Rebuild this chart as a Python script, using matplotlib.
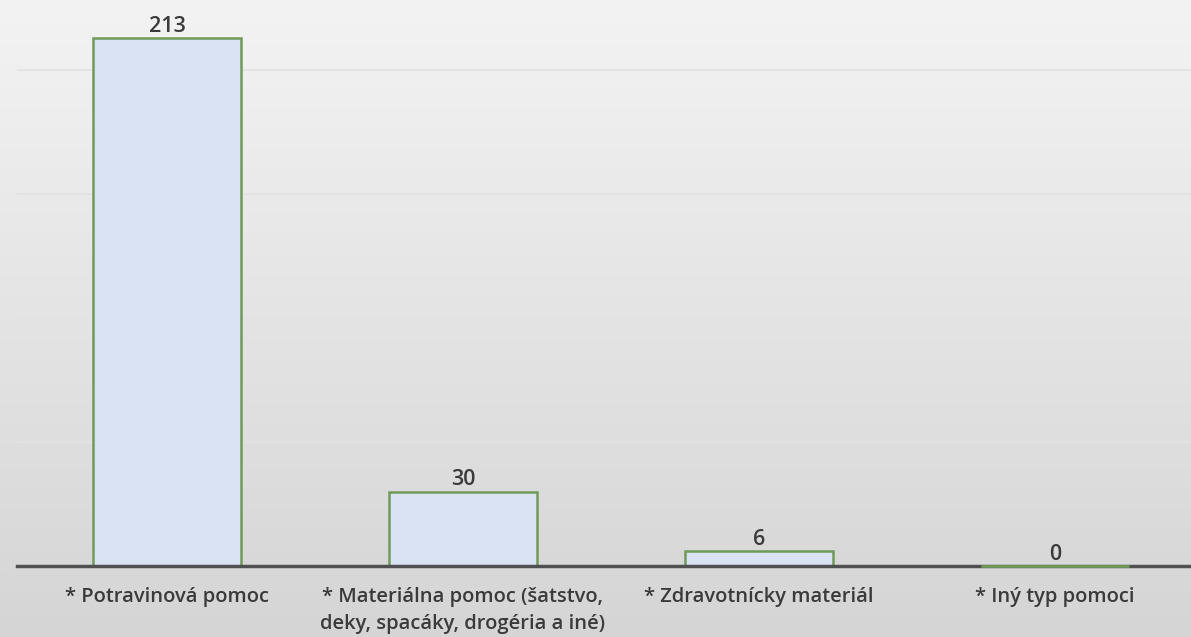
import numpy as np
import matplotlib.pyplot as plt
from matplotlib.colors import LinearSegmentedColormap

categories = ["* Potravinová pomoc",
              "* Materiálna pomoc (šatstvo,\ndeky, spacáky, drogéria a iné)",
              "* Zdravotnícky materiál",
              "* Iný typ pomoci"]
values = [213, 30, 6, 0]

plt.rcParams['font.family'] = ['Open Sans', 'DejaVu Sans']

fig = plt.figure(figsize=(11.91, 6.37), dpi=100)

# gradient background
bg = fig.add_axes([0, 0, 1, 1], zorder=-1)
grad = np.linspace(0, 1, 256).reshape(-1, 1)
cmap = LinearSegmentedColormap.from_list("bg", ["#f3f3f3", "#d5d5d5"])
bg.imshow(grad, aspect="auto", cmap=cmap, extent=[0, 1, 0, 1], origin="upper")
bg.axis("off")

ax = fig.add_axes([17/1191, 71/637, 1174/1191, 566/637])
ax.patch.set_alpha(0)
x = np.arange(len(categories))
bars = ax.bar(x, values, width=0.5, color="#dae3f3", edgecolor="#6f9a5a", linewidth=1.8, zorder=3)

ax.set_xlim(-0.5 - 2/296, 3.5 - 12/296)
ax.set_ylim(0, 228.3)
ax.set_yticks([50, 100, 150, 200])
ax.yaxis.grid(True, color="#e2e2e2", linewidth=1.2, zorder=0)
ax.tick_params(axis="y", left=False, labelleft=False)
ax.tick_params(axis="x", length=0, pad=15, labelsize=14.5, colors="#3a3a3a")
ax.set_xticks(x)
ax.set_xticklabels(categories, va="top", linespacing=1.45, fontweight="semibold")

for s in ["top", "right", "left"]:
    ax.spines[s].set_visible(False)
ax.spines["bottom"].set_color("#505050")
ax.spines["bottom"].set_linewidth(2.5)
ax.spines["bottom"].set_zorder(4)

for b, v in zip(bars, values):
    ax.annotate(str(v), (b.get_x() + b.get_width()/2, v), xytext=(0, 1),
                textcoords="offset points", ha="center", va="bottom",
                fontsize=15.5, color="#3a3a3a", fontweight="semibold")
    if v == 0:
        # empty bar still shows its green outline on the axis
        ax.hlines(0, b.get_x(), b.get_x() + b.get_width(), color="#6f9a5a",
                  linewidth=2, zorder=5, clip_on=False)

fig.savefig("out.png", dpi=100)
